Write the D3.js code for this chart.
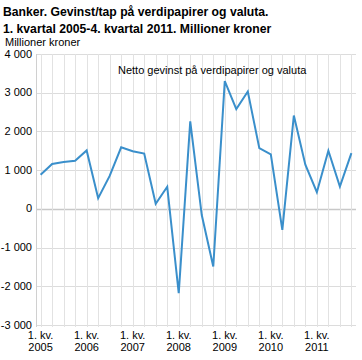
<!DOCTYPE html>
<html>
<head>
<meta charset="utf-8">
<script src="https://cdn.jsdelivr.net/npm/d3@7"></script>
<style>
  body { margin: 0; background: #fff; }
  svg { font-family: "Liberation Sans", Arial, sans-serif; }
</style>
</head>
<body>
<svg width="362" height="360"></svg>
<script>
// Quarters 2005Q1 - 2011Q4
const years = ['2005', '2006', '2007', '2008', '2009', '2010', '2011'];
const quarters = years.flatMap(y => [1, 2, 3, 4].map(q => y + 'Q' + q));
// Netto gevinst på verdipapirer og valuta, millioner kroner
const values = [
    880, 1160, 1210, 1240,
    1510, 275, 850, 1590,
    1490, 1430, 130, 570,
    -2180, 2260, -160, -1490,
    3300, 2575, 3030, 1570,
    1410, -545, 2410, 1140,
    430, 1500, 575, 1440
];
const yTicks = [-3000, -2000, -1000, 0, 1000, 2000, 3000, 4000];

const svg = d3.select('svg');
const plotLeft = 36, plotRight = 356, plotTop = 54, plotBottom = 325;

// Title
const title = svg.append('text')
    .attr('font-size', 12.2)
    .attr('font-weight', 'bold')
    .attr('fill', '#000');
title.append('tspan').attr('x', 3).attr('y', 16).text('Banker. Gevinst/tap på verdipapirer og valuta.');
title.append('tspan').attr('x', 3).attr('y', 33).text('1. kvartal 2005-4. kvartal 2011. Millioner kroner');

svg.append('text')
    .attr('x', 5).attr('y', 46)
    .attr('font-size', 11)
    .text('Millioner kroner');

const x = d3.scalePoint()
    .domain(quarters)
    .range([plotLeft, plotRight])
    .padding(0.4);

const y = d3.scaleLinear()
    .domain([-3000, 4000])
    .range([plotBottom, plotTop]);

// Horizontal grid
svg.append('g')
    .selectAll('line')
    .data(yTicks)
    .join('line')
    .attr('x1', plotLeft).attr('x2', plotRight)
    .attr('y1', d => Math.round(y(d)) + 0.5)
    .attr('y2', d => Math.round(y(d)) + 0.5)
    .attr('stroke', d => d === 0 ? '#c8c8c8' : '#dcdcdc')
    .attr('stroke-width', d => d === 0 ? 1.5 : 1);

// Vertical grid at each quarter
svg.append('g')
    .selectAll('line')
    .data(quarters)
    .join('line')
    .attr('x1', d => Math.round(x(d)) + 0.5)
    .attr('x2', d => Math.round(x(d)) + 0.5)
    .attr('y1', plotTop).attr('y2', plotBottom + 2)
    .attr('stroke', '#e2e2e2');

// Left axis line
svg.append('line')
    .attr('x1', plotLeft + 0.5).attr('x2', plotLeft + 0.5)
    .attr('y1', plotTop).attr('y2', plotBottom + 2)
    .attr('stroke', '#d0d0d0');

// Y tick labels
svg.append('g')
    .selectAll('text')
    .data(yTicks)
    .join('text')
    .attr('x', 32)
    .attr('y', d => y(d) + 3.5)
    .attr('text-anchor', 'end')
    .attr('font-size', 11)
    .text(d => d3.format(',')(d).replace(/,/g, ' ').replace('−', '-'));

// X tick labels
const xLab = svg.append('g')
    .selectAll('text')
    .data(quarters.filter(q => q.endsWith('Q1')))
    .join('text')
    .attr('text-anchor', 'middle')
    .attr('font-size', 11);
xLab.append('tspan')
    .attr('x', d => x(d))
    .attr('y', 339)
    .text('1. kv.');
xLab.append('tspan')
    .attr('x', d => x(d))
    .attr('y', 351)
    .text(d => d.slice(0, 4));

// Series line
const line = d3.line()
    .x((d, i) => x(quarters[i]))
    .y(d => y(d));

svg.append('path')
    .datum(values)
    .attr('d', line)
    .attr('fill', 'none')
    .attr('stroke', '#3a8fcb')
    .attr('stroke-width', 2)
    .attr('stroke-linejoin', 'miter');

// Legend label
svg.append('text')
    .attr('x', 118).attr('y', 74)
    .attr('font-size', 11)
    .text('Netto gevinst på verdipapirer og valuta');
</script>
</body>
</html>
